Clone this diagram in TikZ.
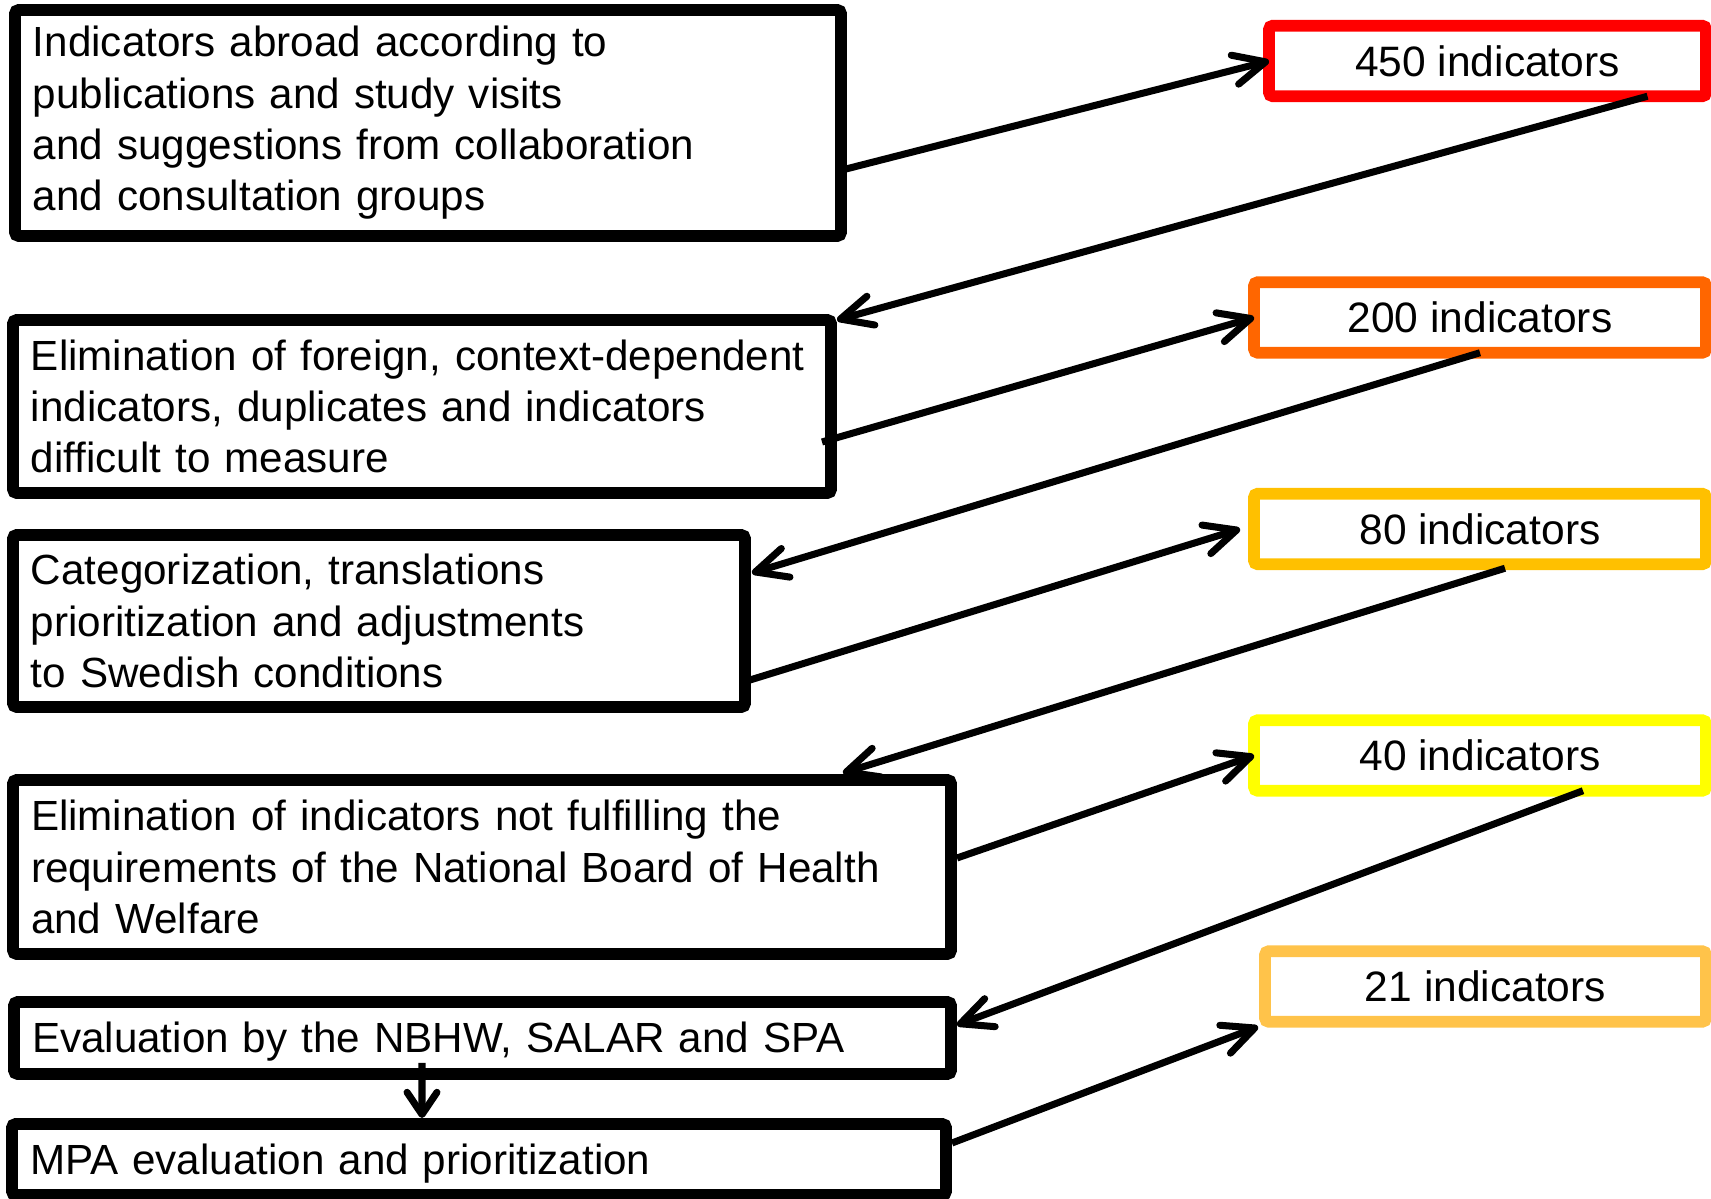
\documentclass[tikz,border=0pt]{standalone}
\usepackage{fontspec}
\setmainfont{Liberation Sans}
\usetikzlibrary{arrows.meta}

\definecolor{c450}{HTML}{FF0000}
\definecolor{c200}{HTML}{FF6600}
\definecolor{c80}{HTML}{FFC000}
\definecolor{c40}{HTML}{FFFF00}
\definecolor{c21}{HTML}{FFC34A}

\tikzset{
  stage/.style={draw, line width=3.3pt, rounded corners=1pt, outer sep=0pt,
    inner xsep=0.18cm, inner ysep=0pt, align=left,
    font=\fontsize{12}{14.6}\selectfont},
  oneline/.style={text height=0.83em, text depth=0pt},
  count/.style={draw, line width=3.3pt, rounded corners=1pt, outer sep=0pt,
    minimum height=0.705cm, font=\fontsize{12.1}{14.6}\selectfont},
  link/.style={line width=2pt,
    -{Straight Barb[length=9pt,width=8.5pt,line cap=round,line join=round]}}
}

\begin{document}
\begin{tikzpicture}
\useasboundingbox (0,0) rectangle (17.11,-11.99);

% Steps of the selection, top to bottom
\node [stage, text width=7.90cm, minimum height=2.26cm] (b1) at (4.28,-1.23)
  {Indicators abroad according to\\publications and study visits\\and suggestions from collaboration\\and consultation groups};
\node [stage, text width=7.82cm, minimum height=1.73cm] (b2) at (4.22,-4.065)
  {\mbox{Elimination of foreign, context-dependent}\\indicators, duplicates and indicators\\difficult to measure};
\node [stage, text width=6.96cm, minimum height=1.72cm] (b3) at (3.79,-6.21)
  {Categorization, translations\\prioritization and adjustments\\to Swedish conditions};
\node [stage, text width=9.02cm, minimum height=1.74cm] (b4) at (4.82,-8.67)
  {Elimination of indicators not fulfilling the\\requirements of the National Board of Health\\and Welfare};
\node [stage, oneline, text width=9.01cm, minimum height=0.72cm] (b5) at (4.825,-10.38)
  {Evaluation by the NBHW, SALAR and SPA};
\node [stage, oneline, text width=8.98cm, minimum height=0.71cm] (b6) at (4.79,-11.595)
  {MPA evaluation and prioritization};

% Number of indicators left after each step
\foreach \num/\x/\y/\w/\col in {450/14.875/-0.61/4.37/c450, 200/14.80/-3.175/4.52/c200,
    80/14.80/-5.29/4.52/c80, 40/14.80/-7.555/4.52/c40, 21/14.855/-9.865/4.41/c21}
  \node [count, draw=\col, minimum width=\w cm] (n\num) at (\x,\y) {\num\ indicators};

% Zig-zag between the steps and the counts
\draw [link] ([xshift=0.05cm,yshift=-0.46cm]b1.east) -- (n450.west);
\draw [link] ([xshift=1.6cm]n450.south) -- ([xshift=0.06cm]b2.north east);
\draw [link] ([xshift=-0.09cm,yshift=-0.355cm]b2.east) -- (n200.west);
\draw [link] (n200.south) -- ([xshift=0.07cm,yshift=-0.38cm]b3.north east);
\draw [link] ([xshift=0.05cm,yshift=-0.59cm]b3.east) -- ([xshift=-0.14cm]n80.west);
\draw [link] ([xshift=0.25cm,yshift=-0.04cm]n80.south) -- ([xshift=-1.08cm,yshift=0.07cm]b4.north east);
\draw [link] ([xshift=0.06cm,yshift=0.09cm]b4.east) -- (n40.west);
\draw [link] ([xshift=1.03cm]n40.south) -- ([xshift=0.06cm,yshift=0.13cm]b5.east);
\draw [link, -{Straight Barb[length=6.3pt,width=8.5pt,line cap=round,line join=round]}]
  ([xshift=-0.605cm,yshift=0.11cm]b5.south) -- ([xshift=-0.57cm,yshift=0.06cm]b6.north);
\draw [link] ([xshift=0.06cm,yshift=0.165cm]b6.east) -- ([xshift=-0.07cm,yshift=-0.05cm]n21.south west);

\end{tikzpicture}
\end{document}
